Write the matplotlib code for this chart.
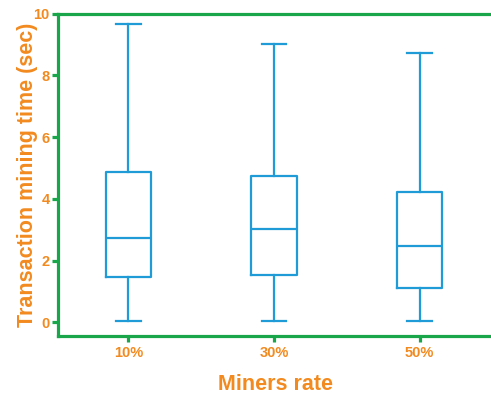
"""
Box plot of transaction mining time for different miner rates.
"""

import matplotlib.pyplot as plt

# Summary statistics per miners rate (seconds)
rates = ["10%", "30%", "50%"]
whisker_low = [0.03, 0.03, 0.03]
q1 = [1.46, 1.53, 1.10]
median = [2.73, 3.02, 2.47]
q3 = [4.87, 4.74, 4.22]
whisker_high = [9.68, 9.03, 8.73]

GREEN = "#19a64b"
ORANGE = "#f28a1f"
BLUE = "#1f9bd7"

plt.rcParams["font.family"] = ["Liberation Sans", "DejaVu Sans"]
plt.rcParams["font.weight"] = "bold"

stats = []
for i, r in enumerate(rates):
    stats.append({
        "label": r,
        "whislo": whisker_low[i],
        "q1": q1[i],
        "med": median[i],
        "q3": q3[i],
        "whishi": whisker_high[i],
        "fliers": [],
    })

fig = plt.figure(figsize=(4.91, 3.94), dpi=100)
ax = fig.add_axes([0.118, 0.147, 0.885, 0.818])

line = dict(color=BLUE, linewidth=1.6)
ax.bxp(stats, positions=[1, 2, 3], widths=0.31, showfliers=False,
       boxprops=line, medianprops=line, whiskerprops=line,
       capprops=line, capwidths=0.17)

ax.set_xlim(0.517, 3.5)
ax.set_ylim(-0.45, 10)
ax.set_yticks([0, 2, 4, 6, 8, 10])

for side in ["left", "bottom", "top"]:
    ax.spines[side].set_color(GREEN)
    ax.spines[side].set_linewidth(2.3)
ax.spines["right"].set_visible(False)

ax.tick_params(axis="both", colors=GREEN, width=2.3, length=4.5,
               labelcolor=ORANGE, labelsize=10.5)
ax.tick_params(axis="x", pad=3)
ax.tick_params(axis="y", pad=1.5)
ax.set_ylabel("Transaction mining time (sec)", color=ORANGE,
              fontsize=15.5, fontweight="bold", labelpad=-3)
ax.set_xlabel("Miners rate", color=ORANGE, fontsize=15.5,
              fontweight="bold", labelpad=10)

fig.savefig("out.png", dpi=100)
